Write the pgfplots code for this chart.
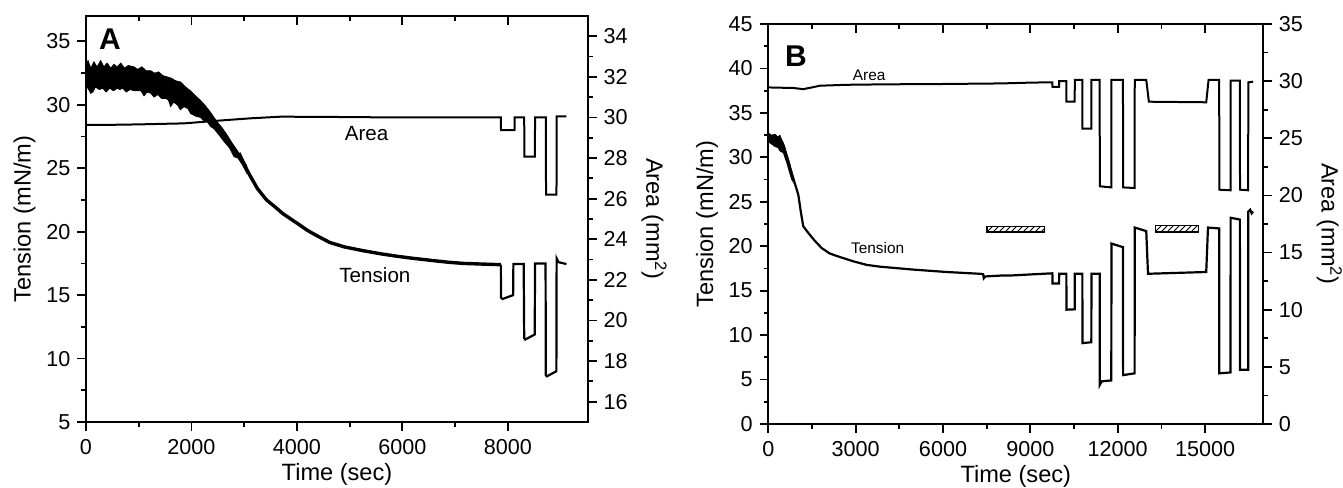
\documentclass[border=0pt]{standalone}
\usepackage{fontspec}
\setmainfont{Liberation Sans}
\usepackage{pgfplots}
\pgfplotsset{compat=1.18}
\usetikzlibrary{patterns}

\pgfplotsset{
  panel/.style={
    scale only axis,
    tick align=outside,
    major tick length=4.3pt,
    minor tick length=2.4pt,
    every tick/.append style={black, line width=0.9pt},
    axis line style={line width=1pt},
    tick label style={font=\fontsize{10.8}{12}\selectfont},
    xticklabel style={yshift=-1pt},
    label style={font=\fontsize{11.8}{13}\selectfont},
    xlabel style={yshift=2.5pt},
    /pgf/number format/assume math mode=true,
    /pgf/number format/1000 sep={},
    scaled ticks=false,
    minor tick num=1,
    clip=false,
  },
  leftax/.style={panel, xtick pos=left, ytick pos=left,
    ylabel style={yshift=-1.5pt}},
  rightax/.style={panel, xtick pos=right, ytick pos=right,
    xticklabels={}, yticklabel pos=right, ylabel near ticks,
    major x tick style={yshift=-4.3pt},
    minor x tick style={yshift=-2.4pt},
    ylabel style={rotate=180, font=\fontsize{11.8}{13}\selectfont}},
}

\begin{document}
\begin{tikzpicture}
\useasboundingbox (0,0) rectangle (671.5pt,243.5pt);

% ---------- panel A ----------
\begin{axis}[leftax,
  at={(43pt,32.5pt)}, anchor=south west,
  width=251pt, height=203pt,
  xmin=0, xmax=9520, ymin=5, ymax=37,
  xtick={0,2000,4000,6000,8000},
  ytick={5,10,15,20,25,30,35},
  xlabel={Time (sec)}, ylabel={Tension (mN/m)}]
% noisy start, drawn as its envelope
\addplot[fill=black, draw=black, line width=0.3pt] coordinates {
(0,33.2)(40,33.5)(90,32.9)(150,33.4)(210,33.0)(278,33.5)(340,33.0)(400,33.3)
(470,32.9)(530,33.2)(594,33.0)(660,33.3)(730,32.9)(800,33.1)(910,33.0)(980,32.8)
(1060,33.0)(1140,32.7)(1226,32.7)(1300,32.5)(1380,32.6)(1460,32.3)(1542,32.2)
(1620,32.1)(1700,31.9)(1795,31.8)(1890,31.4)(1985,31.1)(2080,30.7)(2174,30.35)
(2270,29.9)(2364,29.4)(2430,29.0)(2490,28.65)(2580,28.2)(2680,27.6)(2770,27.0)
(2870,26.4)(2950,25.9)(3050,25.2)
(3050,24.6)(2960,25.3)(2880,25.8)(2807,25.9)(2720,26.6)(2617,27.1)(2527,27.6)
(2427,28.1)(2360,28.3)(2300,28.65)(2240,28.7)(2174,29.0)(2080,29.1)(1985,29.3)
(1930,29.7)(1858,29.85)(1790,29.6)(1730,30.0)(1660,30.2)(1605,29.85)(1560,30.4)
(1500,30.5)(1430,30.5)(1360,30.8)(1290,30.6)(1230,30.9)(1160,31.0)(1100,30.7)
(1040,31.1)(980,31.1)(910,31.1)(840,31.2)(760,31.0)(700,31.3)(640,31.2)(594,31.3)
(520,31.1)(450,31.3)(380,31.0)(320,31.3)(250,31.2)(180,31.4)(130,31.0)(88,30.9)
(50,31.2)(0,31.5)} -- cycle;
\addplot[black, line width=1.7pt] coordinates {
(2900,26.2)(3000,25.3)(3100,24.5)(3250,23.4)(3424,22.5)(3600,21.9)(3740,21.4)
(3992,20.7)(4200,20.1)(4371,19.7)(4623,19.15)(4900,18.8)(5257,18.5)(5600,18.25)
(5889,18.07)(6200,17.9)(6521,17.75)(6850,17.6)(7153,17.5)(7500,17.45)(7867,17.4)};
\addplot[black, line width=1.1pt] coordinates {
(7867,17.4)(7870,14.8)(7900,14.7)(8100,15.0)(8105,17.45)(8300,17.45)
(8310,11.6)(8330,11.5)(8510,11.9)(8515,17.5)(8715,17.5)
(8720,8.7)(8740,8.6)(8920,9.0)(8925,17.9)(8960,17.6)(9111,17.45)};
\node[font=\bfseries\fontsize{15}{16}\selectfont] at (axis cs:455,35.2) {A};
\node[font=\fontsize{10.3}{12}\selectfont] at (axis cs:5321,27.7) {Area};
\node[font=\fontsize{10.3}{12}\selectfont] at (axis cs:5479,16.57) {Tension};
\end{axis}

\begin{axis}[rightax,
  at={(43pt,32.5pt)}, anchor=south west,
  width=251pt, height=203pt,
  xmin=0, xmax=9520, ymin=15, ymax=35,
  xtick={0,2000,4000,6000,8000},
  ytick={16,18,20,22,24,26,28,30,32,34},
  ylabel={Area (mm\textsuperscript{2})}]
\addplot[black, line width=1pt] coordinates {
(0,29.63)(500,29.64)(1000,29.66)(1500,29.69)(1858,29.71)(2200,29.78)(2490,29.84)
(2800,29.9)(3123,29.96)(3692,30.04)(4500,30.03)(6000,30.0)(7867,30.0)
(7870,29.38)(8126,29.38)(8130,30.0)(8310,30.0)(8314,28.07)(8512,28.07)
(8516,30.0)(8720,30.0)(8724,26.2)(8922,26.2)(8926,30.05)(9111,30.05)};
\end{axis}

% ---------- panel B ----------
\begin{axis}[leftax,
  at={(384.15pt,31.5pt)}, anchor=south west,
  width=247.5pt, height=200pt,
  xmin=0, xmax=17000, ymin=0, ymax=45,
  xtick={0,3000,6000,9000,12000,15000},
  ytick={0,5,10,15,20,25,30,35,40,45},
  xlabel={Time (sec)}, ylabel={Tension (mN/m)}]
\addplot[fill=black, draw=black, line width=0.3pt] coordinates {
(0,32.8)(100,32.5)(230,32.6)(330,32.3)(400,32.5)(460,32.0)(516,31.65)(570,31.2)
(630,30.5)(700,29.8)(800,28.6)(900,27.5)
(900,27.0)(800,27.5)(700,28.6)(630,29.4)(516,30.5)(400,30.7)(330,31.1)(230,31.2)
(150,31.4)(60,31.6)(0,31.8)} -- cycle;
\addplot[black, line width=1.1pt] coordinates {
(880,27.4)(1030,25.8)(1120,23.8)(1200,22.25)(1372,21.5)(1600,20.6)(1830,19.8)
(2100,19.2)(2350,18.9)(2920,18.3)(3380,17.9)(3830,17.7)(4980,17.37)(6120,17.1)
(7260,16.9)(7380,16.85)(7400,16.4)(7450,16.6)(8000,16.7)(8292,16.7)(9435,16.9)
(9756,16.95)(9760,15.8)(9985,15.8)(9990,16.9)(10236,16.9)(10240,12.86)
(10522,12.9)(10526,16.9)(10785,16.9)(10790,9.1)(11094,9.2)(11098,16.9)
(11380,16.9)(11385,4.4)(11450,4.8)(11780,4.9)(11785,20.3)(12170,19.9)
(12180,19.9)(12185,5.5)(12580,5.7)(12585,22.1)(12980,21.7)(13040,16.9)
(15040,17.1)(15100,22.1)(15485,22.0)(15490,5.7)(15874,5.8)(15878,23.2)
(16195,23.0)(16200,6.1)(16480,6.1)(16485,23.9)(16550,24.1)(16600,23.7)(16650,23.9)};
\draw[line width=0.6pt, pattern=north east lines]
  (axis cs:7513,21.6) rectangle (axis cs:9493,22.25);
\draw[line width=0.6pt, pattern=north east lines]
  (axis cs:13304,21.6) rectangle (axis cs:14786,22.3);
\node[font=\bfseries\fontsize{15}{16}\selectfont] at (axis cs:950,41.4) {B};
\node[font=\fontsize{7.7}{9}\selectfont] at (axis cs:3465,39.25) {Area};
\node[font=\fontsize{7.7}{9}\selectfont] at (axis cs:3753,19.8) {Tension};
\end{axis}

\begin{axis}[rightax,
  at={(384.15pt,31.5pt)}, anchor=south west,
  width=247.5pt, height=200pt,
  xmin=0, xmax=17000, ymin=0, ymax=35,
  xtick={0,3000,6000,9000,12000,15000},
  ytick={0,5,10,15,20,25,30,35},
  ylabel={Area (mm\textsuperscript{2})}]
\addplot[black, line width=1pt] coordinates {
(0,29.45)(500,29.42)(860,29.4)(1200,29.3)(1500,29.45)(1770,29.6)(2690,29.68)
(4000,29.72)(6000,29.75)(8000,29.8)(9000,29.87)(9756,29.9)(9760,29.5)(9985,29.5)
(9990,30.0)(10236,30.0)(10240,28.2)(10522,28.2)(10526,30.1)(10785,30.1)
(10790,25.85)(11094,25.85)(11098,30.1)(11380,30.1)(11385,20.8)(11780,20.7)
(11785,30.1)(12180,30.1)(12185,20.7)(12580,20.65)(12585,30.1)(12980,30.1)
(13070,28.2)(15040,28.15)(15120,30.1)(15485,30.1)(15490,20.5)(15874,20.45)
(15878,30.05)(16195,30.05)(16200,20.5)(16480,20.45)(16485,29.9)(16650,29.95)};
\end{axis}
\end{tikzpicture}
\end{document}
